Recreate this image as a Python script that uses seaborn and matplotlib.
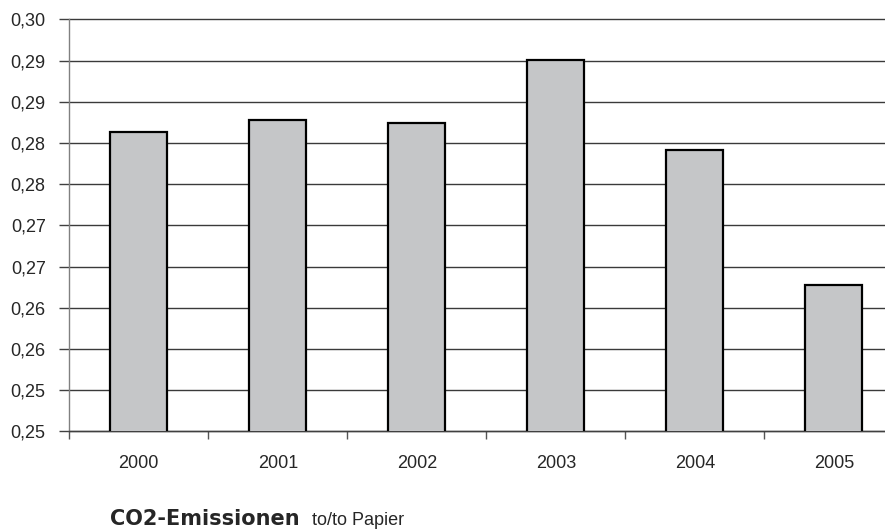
import numpy as np
import matplotlib
matplotlib.use('Agg')
import matplotlib.pyplot as plt
import seaborn as sns

# ===================== data =====================
years = ['2000', '2001', '2002', '2003', '2004', '2005']
co2_per_ton = [0.2863, 0.2878, 0.2874, 0.2951, 0.2842, 0.2678]

y_ticks = [0.250, 0.255, 0.260, 0.265, 0.270, 0.275, 0.280, 0.285, 0.290, 0.295, 0.300]
y_labels = ['0,25', '0,25', '0,26', '0,26', '0,27', '0,27', '0,28', '0,28', '0,29', '0,29', '0,30']

# ===================== style =====================
sns.set_style('white')
plt.rcParams['font.family'] = ['Liberation Sans', 'DejaVu Sans']
plt.rcParams['font.size'] = 13

fig = plt.figure(figsize=(8.85, 5.32), dpi=100)
# plot area runs past the right edge, like the original
ax = fig.add_axes([69.3 / 885, 100.7 / 532, 834 / 885, 411.8 / 532])

sns.barplot(x=years, y=co2_per_ton, color='#c5c6c8', saturation=1,
            edgecolor='black', linewidth=1.6, width=0.41, ax=ax, zorder=3)

ax.set_xlim(-0.5, 5.5)
ax.set_ylim(0.25, 0.30)
ax.set_xlabel('')
ax.set_ylabel('')

# y axis
ax.set_yticks(y_ticks)
ax.set_yticklabels(y_labels)
ax.yaxis.grid(True, color='#3a3a3a', linewidth=1)
for gl in ax.get_ygridlines():
    gl.set_clip_on(False)
ax.set_axisbelow(True)
ax.tick_params(axis='y', left=True, length=7, width=1, color='#404040',
               direction='out', pad=10, labelsize=13)

# x axis: tick marks between categories, labels in the middle
ax.set_xticks(np.arange(-0.5, 6.0, 1.0))
ax.set_xticklabels([])
ax.set_xticks(range(len(years)), minor=True)
ax.set_xticklabels(years, minor=True)
ax.tick_params(axis='x', which='major', bottom=True, length=6, width=1,
               color='#555555', direction='out')
ax.tick_params(axis='x', which='minor', bottom=True, length=0, pad=17, labelsize=13)

for s in ['top', 'right']:
    ax.spines[s].set_visible(False)
ax.spines['left'].set_color('#808080')
ax.spines['left'].set_linewidth(1)
ax.spines['bottom'].set_color('#404040')
ax.spines['bottom'].set_linewidth(1)

# caption under the chart
fig.text(110 / 885, 7 / 532, 'CO2-Emissionen', fontsize=15, fontweight='heavy',
         family=['DejaVu Sans'], ha='left', va='baseline')
fig.text(312 / 885, 7 / 532, 'to/to Papier', fontsize=13,
         ha='left', va='baseline')

plt.savefig('out.png', dpi=100)
